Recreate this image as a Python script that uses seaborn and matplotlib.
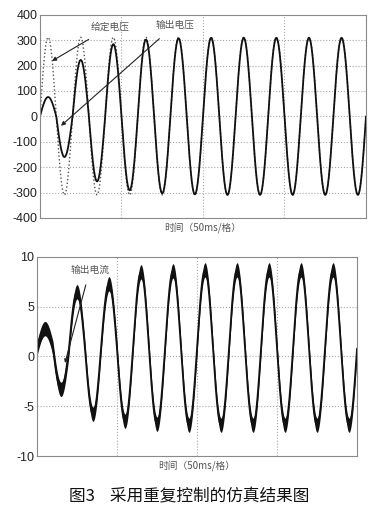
import numpy as np
import seaborn as sns
import matplotlib.pyplot as plt

# signed extreme of each half cycle (50 Hz, 10 cycles over 200 ms)
given_ext = [311, -309] * 10
output_ext = [76, -160, 222, -256, 284, -291, 302, -303, 307, -307,
              309, -309, 309, -309, 309, -309, 309, -309, 309, -309]
current_ext = [2.8, -3.3, 6.5, -5.8, 7.3, -6.5, 8.5, -6.8, 8.6, -6.9,
               8.7, -6.9, 8.7, -6.9, 8.7, -6.9, 8.7, -6.9, 8.7, -6.9]
current_offset = 0.8
ripple = 0.72

v_ticks = [-400, -300, -200, -100, 0, 100, 200, 300, 400]
i_ticks = [-10, -5, 0, 5, 10]
grid_t = [0.05, 0.10, 0.15]
xlabel = "时间（50ms/格）"
caption = "图3    采用重复控制的仿真结果图"

sns.set_style("white")
plt.rcParams['font.family'] = ['Noto Sans CJK SC', 'DejaVu Sans']
plt.rcParams['axes.unicode_minus'] = False

t = np.linspace(0, 0.2, 4001)
half = np.minimum((t / 0.01).astype(int), 19)
s = np.abs(np.sin(2 * np.pi * 50 * t))
v_given = np.array(given_ext)[half] * s
v_out = np.array(output_ext)[half] * s
i_out = current_offset + (np.array(current_ext)[half] - current_offset) * s

fig = plt.figure(figsize=(3.79, 5.22), dpi=100)
ax1 = fig.add_axes([0.1055, 0.5824, 0.8602, 0.3894])
ax2 = fig.add_axes([0.0976, 0.1264, 0.8444, 0.3813])

def style(ax, ticks):
    ax.set_xlim(0, 0.2)
    ax.set_ylim(ticks[0], ticks[-1])
    ax.set_yticks(ticks)
    ax.set_xticks([])
    for g in grid_t:
        ax.axvline(g, color='#a8a8a8', ls=':', lw=0.8, zorder=0)
    for y in ticks[1:-1]:
        ax.axhline(y, color='#a8a8a8', ls=':', lw=0.8, zorder=0)
    for sp in ax.spines.values():
        sp.set_color('#8a8a8a')
        sp.set_linewidth(0.8)
    ax.tick_params(axis='y', labelsize=9, labelcolor='#222', length=0, pad=2)
    for lab in ax.get_yticklabels():
        lab.set_family(['Liberation Sans', 'DejaVu Sans'])
    ax.set_xlabel(xlabel, fontsize=7, color='#555', labelpad=3)
    ax.set_ylabel('')

# top: given vs output voltage
sns.lineplot(x=t, y=v_given, ax=ax1, color='#555555', lw=1.0, ls=':', estimator=None, sort=False)
sns.lineplot(x=t, y=v_out, ax=ax1, color='#111111', lw=1.3, estimator=None, sort=False)
style(ax1, v_ticks)
ax1.annotate("给定电压", xy=(0.0074, 218), xytext=(0.0429, 352), fontsize=7, color='#555',
             ha='center', va='center',
             arrowprops=dict(arrowstyle='-|>', color='#222', lw=0.8, mutation_scale=6,
                             shrinkA=6, shrinkB=0))
ax1.annotate("输出电压", xy=(0.0129, -37), xytext=(0.0828, 360), fontsize=7, color='#555',
             ha='center', va='center',
             arrowprops=dict(arrowstyle='-|>', color='#222', lw=0.8, mutation_scale=6,
                             shrinkA=6, shrinkB=0))

# bottom: output current with switching ripple band
ax2.fill_between(t, i_out - ripple, i_out + ripple, color='#111111', lw=0)
sns.lineplot(x=t, y=i_out, ax=ax2, color='#111111', lw=1.3, estimator=None, sort=False)
style(ax2, i_ticks)
ax2.annotate("输出电流", xy=(0.0175, -0.65), xytext=(0.033, 8.7), fontsize=7, color='#555',
             ha='center', va='center',
             arrowprops=dict(arrowstyle='-|>', color='#222', lw=0.8, mutation_scale=5,
                             shrinkA=5, shrinkB=0))

fig.text(0.5, 0.048, caption, ha='center', va='center', fontsize=12, color='#111')

fig.savefig("out.png", dpi=100)
